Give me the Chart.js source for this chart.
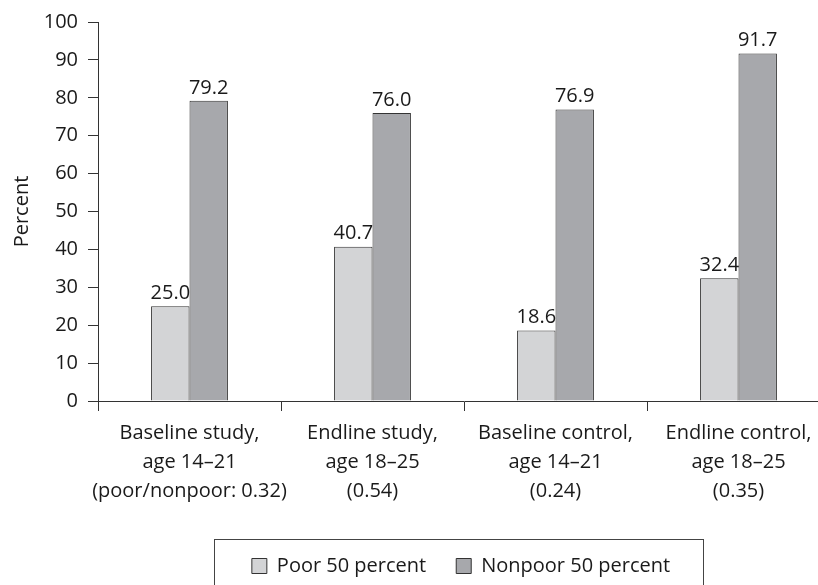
<!DOCTYPE html>
<html>
<head>
<meta charset="utf-8">
<script src="https://cdn.jsdelivr.net/npm/chart.js@4/dist/chart.umd.min.js"></script>
<style>
  html, body { margin: 0; padding: 0; background: #fff; overflow: hidden; }
  #wrap { width: 830px; height: 600px; }
</style>
</head>
<body>
<div id="wrap"><canvas id="povertyChart"></canvas></div>
<script>
// groups on the x axis (multi-line labels)
const groups = [
    ['Baseline study,', 'age 14\u201321', '(poor/nonpoor: 0.32)'],
    ['Endline study,', 'age 18\u201325', '(0.54)'],
    ['Baseline control,', 'age 14\u201321', '(0.24)'],
    ['Endline control,', 'age 18\u201325', '(0.35)']
];
const poorValues = [25.0, 40.7, 18.6, 32.4];
const nonpoorValues = [79.2, 76.0, 76.9, 91.7];
const seriesNames = ['Poor 50 percent', 'Nonpoor 50 percent'];

const FONT = 'Open Sans';
const SIZE = 20;
const INK = '#1a1a1a';

// value labels above each bar
const barLabels = {
    id: 'barLabels',
    afterDatasetsDraw(chart) {
        const ctx = chart.ctx;
        ctx.save();
        ctx.font = SIZE + 'px "' + FONT + '"';
        ctx.fillStyle = INK;
        ctx.textAlign = 'center';
        ctx.textBaseline = 'bottom';
        chart.data.datasets.forEach((ds, i) => {
            chart.getDatasetMeta(i).data.forEach((bar, j) => {
                ctx.fillText(ds.data[j].toFixed(1), bar.x, bar.y - 3);
            });
        });
        ctx.restore();
    }
};

// nudge legend and frame it
const legendFrame = {
    id: 'legendFrame',
    afterLayout(chart) {
        const lg = chart.legend;
        lg.left += 46;
        lg.right += 46;
        lg.top += 12;
        lg.bottom += 12;
    },
    afterDraw(chart) {
        const boxes = chart.legend.legendHitBoxes;
        if (!boxes || !boxes.length) return;
        const first = boxes[0], last = boxes[boxes.length - 1];
        const ctx = chart.ctx;
        ctx.save();
        ctx.strokeStyle = '#444';
        ctx.lineWidth = 1;
        const x0 = first.left - 38;
        const x1 = last.left + last.width + 33;
        const y0 = first.top - 17;
        ctx.strokeRect(Math.round(x0) + 0.5, Math.round(y0) + 0.5, Math.round(x1 - x0), 80);
        ctx.restore();
    }
};

new Chart(document.getElementById('povertyChart'), {
    type: 'bar',
    data: {
        labels: groups,
        datasets: [{
            label: seriesNames[0],
            data: poorValues,
            backgroundColor: '#d3d4d6',
            borderColor: '#333',
            borderWidth: 1
        }, {
            label: seriesNames[1],
            data: nonpoorValues,
            backgroundColor: '#a7a8ac',
            borderColor: '#333',
            borderWidth: 1
        }]
    },
    options: {
        responsive: true,
        maintainAspectRatio: false,
        animation: false,
        datasets: { bar: { categoryPercentage: 0.42, barPercentage: 1.0 } },
        layout: { padding: { top: 11, left: 0, right: 0, bottom: 26 } },
        plugins: {
            legend: {
                position: 'bottom',
                labels: {
                    font: { family: FONT, size: SIZE },
                    color: INK,
                    boxWidth: 15,
                    boxHeight: 15,
                    padding: 30
                }
            },
            tooltip: { enabled: false }
        },
        scales: {
            x: {
                grid: { display: true, drawOnChartArea: false, offset: true, tickLength: 10, color: '#333' },
                border: { display: true, color: '#333' },
                ticks: { font: { family: FONT, size: SIZE, lineHeight: 1.45 }, color: INK, padding: 8, maxRotation: 0, autoSkip: false }
            },
            y: {
                min: 0,
                max: 100,
                grid: { display: true, drawOnChartArea: false, tickLength: 10, color: '#333' },
                border: { display: true, color: '#333' },
                ticks: { stepSize: 10, font: { family: FONT, size: SIZE }, color: INK, padding: 10 },
                title: { display: true, text: 'Percent', font: { family: FONT, size: SIZE }, color: INK, padding: { top: 10, bottom: 0 } },
                afterFit(scale) { scale.width = 98; }
            }
        }
    },
    plugins: [barLabels, legendFrame]
});
</script>
</body>
</html>
